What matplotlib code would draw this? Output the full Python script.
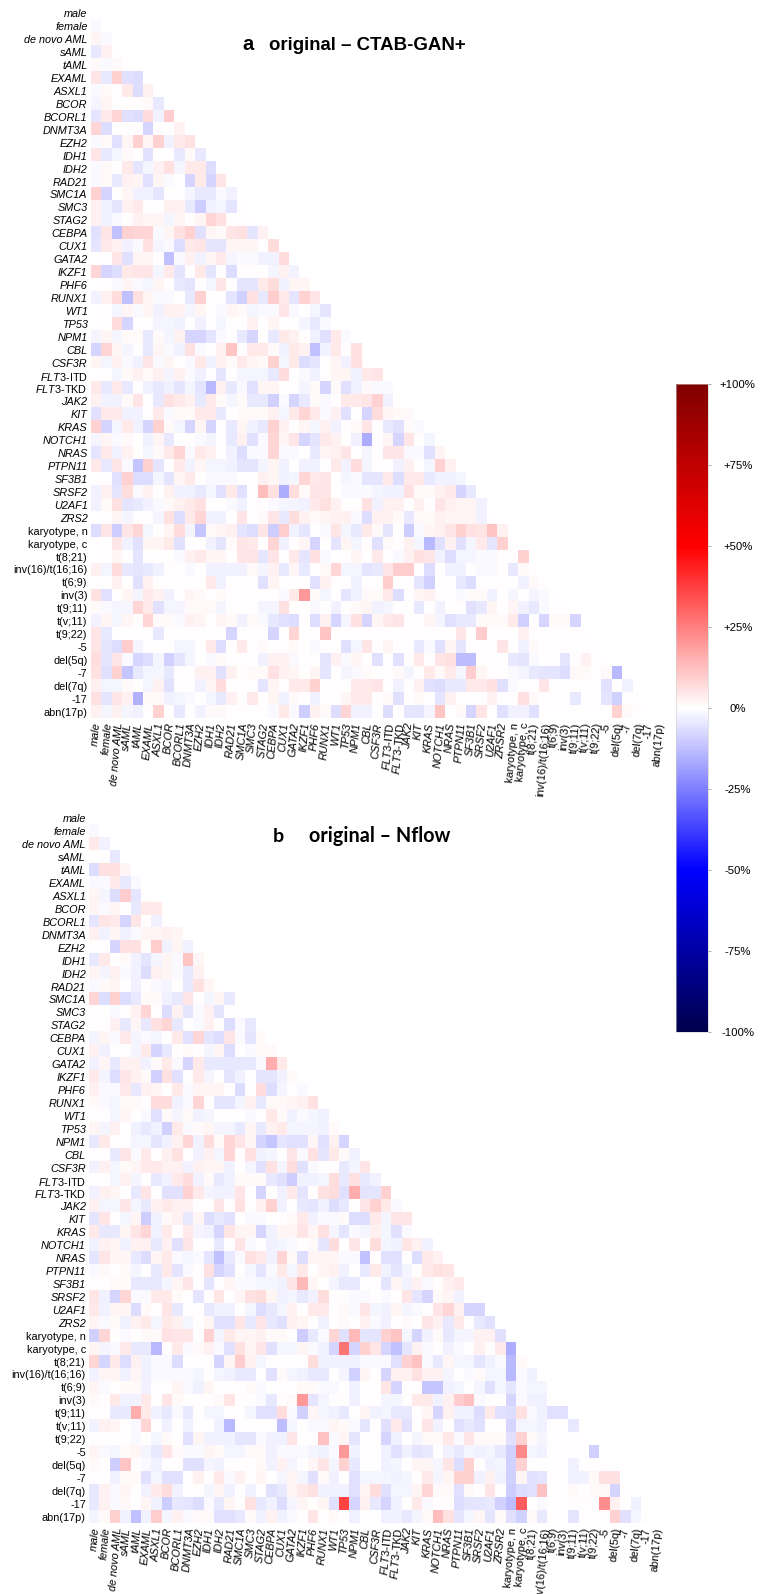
import matplotlib
matplotlib.use('Agg')
import matplotlib.pyplot as plt
import numpy as np

plt.rcParams['font.family'] = ['Liberation Sans', 'DejaVu Sans']
plt.rcParams['mathtext.fontset'] = 'custom'
plt.rcParams['mathtext.it'] = 'Liberation Sans:italic'
plt.rcParams['mathtext.rm'] = 'Liberation Sans'

W, H = 769, 1594

genes = ['male', 'female', 'de novo AML', 'sAML', 'tAML', 'EXAML', 'ASXL1', 'BCOR', 'BCORL1', 'DNMT3A',
         'EZH2', 'IDH1', 'IDH2', 'RAD21', 'SMC1A', 'SMC3', 'STAG2', 'CEBPA', 'CUX1', 'GATA2',
         'IKZF1', 'PHF6', 'RUNX1', 'WT1', 'TP53', 'NPM1', 'CBL', 'CSF3R', r'$\mathit{FLT3}$-ITD', r'$\mathit{FLT3}$-TKD',
         'JAK2', 'KIT', 'KRAS', 'NOTCH1', 'NRAS', 'PTPN11', 'SF3B1', 'SRSF2', 'U2AF1', 'ZRS2']
cyto = ['karyotype, n', 'karyotype, c', 't(8;21)', 'inv(16)/t(16;16)', 't(6;9)', 'inv(3)', 't(9;11)', 't(v;11)',
        't(9;22)', '-5', 'del(5q)', '-7', 'del(7q)', '-17', 'abn(17p)']
row_labels = genes + cyto
col_labels = genes[:-1] + ['ZRSR2'] + cyto

# percentage point differences, lower triangle, one list per row from "female" down
diff_a = [
    [-1],
    [2, -1],
    [-4, 3, 0],
    [1, -1, 1, 0],
    [5, -4, 9, -6, -7],
    [-1, 1, 0, 4, -7, 3],
    [-2, 2, 0, 0, 0, 1, -4],
    [-5, 4, 8, -6, -7, 7, -3, 10],
    [8, -7, 0, 0, 0, -8, 0, 0, 3],
    [-1, 1, -6, 2, 9, 2, 9, -3, 4, 6],
    [5, -4, -2, 1, 0, -6, 0, 0, -4, 1, -4],
    [-1, 1, 0, 4, -5, -2, 3, 6, -2, 4, 4, -7],
    [-1, 1, -4, 3, 2, -6, 2, -1, 0, -8, 4, -8, 5],
    [9, -8, 0, 2, -3, -3, -5, 0, 0, -2, -4, -4, -1, -3],
    [3, -3, -5, 3, 4, 0, 0, 3, 3, -4, -10, -3, -2, -5, 0],
    [3, -3, -1, 0, 3, 2, 2, -2, 2, 0, 2, 8, 6, 0, 0, 0],
    [-6, 5, -12, 9, 8, 8, -1, 2, 6, 9, -6, 2, 1, 5, 6, -5, 3],
    [-5, 4, 3, -3, -1, 6, -2, -1, -7, 4, 5, -5, -5, 2, 2, 2, 0, 7],
    [0, 0, 5, -6, 2, 2, 0, -12, -1, 3, -3, 2, 4, -2, -1, -1, -3, -3, 7],
    [8, -8, -7, 4, 5, 5, -2, 4, -5, 0, 4, -5, 0, -7, 0, 0, 0, -2, 3, -3],
    [0, 0, -1, 2, -1, -2, 2, 0, -4, -5, 0, -2, 5, 0, -5, -5, 4, 7, -3, 2, 2],
    [-3, 3, 7, -12, 6, 2, -1, -1, 0, -4, 9, 0, 0, -5, -9, 6, -4, 10, 4, -5, 9, 5],
    [0, 0, -2, 2, -1, 2, -3, 3, 3, -2, 2, 0, -1, 2, 1, -2, -1, -1, 5, -1, 0, -2, -5],
    [0, 0, 7, -8, 0, 0, -2, -2, -3, 0, -3, 0, -2, 0, 0, 3, 0, 2, 0, 0, -2, -4, -1, 0],
    [-2, 2, -2, 1, 1, -4, 1, -2, 3, -8, -8, -5, -1, 0, -4, -8, 0, -4, 4, 3, 0, -3, -6, 4, -1],
    [-8, 8, 2, -2, 0, -4, 2, -1, -3, 6, -1, 0, 3, 11, 0, 4, 4, 1, -3, 4, 3, -12, -3, 4, 0, 6],
    [2, -2, 3, -1, -3, 5, -1, 2, 0, -1, 4, -3, 3, 1, 4, 2, 1, 9, -2, 4, -7, -5, 0, 2, -3, 6, 0],
    [0, 0, -2, 1, 3, 1, 3, -2, 3, -1, -3, 0, -5, 0, -2, -2, -2, -4, 7, 0, -1, -3, 0, 2, 2, -3, 4, 5],
    [4, -4, 4, -4, 0, -3, -4, -3, -5, -2, -5, -14, 3, -4, -1, -6, 2, 2, 0, 0, -2, 1, -8, 1, -6, -3, 1, -1, -1],
    [3, -3, -3, 1, 5, 0, -4, 6, 4, 3, -4, 4, 1, -2, 1, -4, -4, -9, -1, -8, -4, 1, -1, 0, 4, 4, 5, 9, -3, 0],
    [-6, 4, 4, -3, -3, 0, 4, -1, 1, 1, 4, 4, -4, 0, 1, 1, 1, 3, -2, 4, 8, 4, -1, 3, -6, 0, -8, 7, 2, 1, 1],
    [9, -8, -2, 4, -3, -8, 9, 1, -2, -8, 2, -8, 0, -4, 2, -3, -4, 9, 3, 0, 2, -2, 3, -3, 0, 1, 5, 0, -4, -6, 1, -1],
    [-2, 2, -1, 1, 0, -3, 2, -4, 0, 0, -1, -2, 0, -4, 3, -6, -1, 8, 2, 5, -8, -5, 4, 3, 0, -3, -16, 0, 2, -8, 5, 0, -2],
    [-5, 4, -3, 3, 0, -2, 1, 4, 8, -1, 4, 3, 0, -3, -7, -1, -1, 8, -1, -1, 0, -4, 2, 3, 5, 0, -2, 0, 5, 5, -1, -1, -6, 2],
    [4, -4, 5, -1, -11, 9, -5, 0, 4, -3, 2, -2, -2, -3, -5, -5, -2, 2, -3, 0, -3, -3, 0, 4, -3, 7, -2, 0, 0, -3, 3, 0, -2, 9, 3],
    [0, 0, -6, 9, -7, -7, -2, -5, 2, 4, 0, -1, -1, -1, 0, 0, 3, 2, -3, -2, 8, 4, 5, 0, -2, -1, -5, -5, 4, -7, 4, 4, -4, -3, -3, -2],
    [-3, 3, -5, 7, -1, 3, 0, 3, -3, -3, -4, -2, -6, 4, -6, 0, 13, 6, -16, 7, 1, 5, 5, 0, -1, -1, -1, -2, -3, -3, 6, 1, 1, 3, 4, -8, -4],
    [-3, 1, 6, -5, -4, -3, -1, 1, 3, 4, 6, 0, 0, -1, -3, 0, 0, -1, -2, -2, -3, 4, 6, 3, 0, 0, 6, -3, 3, 3, 0, 3, 0, 5, 3, 2, 2, -3],
    [0, 0, 2, -2, 0, 0, -2, 6, -7, 4, 8, -3, -3, 0, 5, 0, 1, 5, -4, 7, 3, 1, 2, 3, 3, -1, -7, 3, 3, 1, -4, 1, 1, 3, 2, 2, 2, -3, 0],
    [-7, 5, -10, 5, 8, -2, 0, 2, 7, -2, -11, 1, 2, 3, -5, -7, 5, -10, 10, -3, -5, 0, -1, 5, -2, -4, 4, 1, -5, 0, -10, -1, 2, 3, 5, 9, 6, 5, 11, 3],
    [0, 0, 5, -3, -6, 2, 2, 4, -6, 0, 0, -3, -5, 1, 5, 4, 0, 8, -3, 0, 2, -8, 0, -5, 2, -2, 0, -6, 1, 0, 3, -2, -14, -6, 3, -6, -2, 4, -5, 9, 0],
    [0, 0, 2, 0, -5, 0, 0, 0, -1, 3, 4, 2, 2, 0, 5, 5, -5, 5, 0, 4, -5, 6, -1, 0, 0, 2, 0, 4, 0, -1, 3, 6, 5, -3, -7, -2, -2, -1, -1, 0, 0, 9],
    [3, -2, 7, -4, -5, -4, -3, 0, 0, -1, 0, -3, -3, -3, -3, 1, -2, 3, -4, 2, -4, 0, 1, 8, -2, -2, -5, -4, 5, 10, 10, 0, -7, 0, -3, -3, 0, -1, -1, 0, -4, 1, 0],
    [0, 0, 3, 0, -6, 3, 0, 0, 0, 0, 0, 4, -3, 0, 0, 0, -6, 2, 0, 0, 0, -6, 3, 0, 0, -3, 0, 0, 10, 0, 0, -5, -9, 0, 0, -4, -7, 0, 0, 0, 0, -3, 1, 0],
    [6, -6, 0, 2, -2, 4, 3, -3, 0, 2, 1, 0, 1, 0, 0, 0, 0, 0, -1, 4, 20, 1, -2, 0, -5, -3, 1, 1, 4, -7, 0, 2, 3, 0, 0, -1, 1, 1, -3, 0, -2, 0, -2, -1, 0],
    [1, -1, -2, -2, 8, 4, -6, -2, -2, 1, 1, 1, -2, 0, 0, 0, -2, -2, 6, 0, 0, -1, 0, -3, 0, 1, 2, -3, -2, 0, 0, -4, 0, -3, 0, 0, -6, -4, 2, 0, 2, -3, -4, -1, 0, 0],
    [-3, 2, -2, 2, 0, 8, 1, 1, -1, 3, 2, 0, 2, 1, -3, 1, -1, -4, -6, -7, 0, -7, 3, -8, -2, 6, -8, 2, 4, 5, 0, 0, 2, -2, -6, -4, -4, 1, 1, 1, 4, -9, 0, -8, 1, 1, -8],
    [5, -4, 0, 0, 0, 0, -4, 0, 0, 0, 0, 0, 0, -8, 0, 0, 0, -8, 0, 8, 0, 0, 11, 0, 0, 0, 0, 0, 0, 0, 0, 0, 0, 0, 0, 5, 0, 10, 0, 0, 0, 3, 0, 0, 0, 0, 0, 0],
    [5, -5, -7, 10, -2, 0, 0, 0, -2, -2, 0, 4, -7, 0, 4, 0, 1, 0, 0, 1, 0, -1, 0, 0, -6, -2, 5, 0, 2, 0, 0, -4, -1, -6, 2, -5, 0, 0, 0, 5, 0, -3, 1, 0, 0, 0, 0, 0, 0],
    [7, -5, 5, -1, -8, -7, -2, -9, -5, -2, 0, -1, 1, 0, 0, 0, -3, 3, 3, -1, 0, 0, -5, 3, -1, 2, 0, -6, 0, -6, 0, 4, 0, 5, 6, -13, -13, 0, 0, 0, -4, -5, -1, 0, 0, -5, 0, 3, 0, 0],
    [6, -6, 9, -11, -4, -2, -2, -4, 0, 0, 3, 3, -6, 3, 0, 1, 1, 6, 3, 2, 0, 2, -5, 0, -2, -1, 1, 0, 0, 1, -2, 0, 4, 1, 4, -2, 10, 2, 0, 0, -1, -2, -4, -5, -5, -7, 1, 1, 0, 1, -14],
    [3, -2, -2, 1, 0, -2, 3, -6, 0, 0, -3, 2, 7, 0, 0, 0, -5, 2, 0, 4, 4, 9, 0, 0, 0, 4, 4, 5, 0, -3, 0, 3, -6, -7, -4, -4, 4, 4, 6, -6, -1, 0, 0, 5, 0, 0, 0, 0, 0, -6, 0, -3],
    [6, -5, 5, 3, -15, 1, 1, -3, -2, -1, 0, -2, -4, 3, 0, 4, 0, 2, -3, 1, 0, -3, 0, 0, 2, 4, 4, 0, 1, -6, 0, 1, 0, -5, 3, 0, 0, 0, 3, 0, 0, 6, 1, 0, 0, 0, -4, 0, 0, -5, -9, 0, 0],
    [3, -2, 3, -2, -3, 0, 9, 0, -4, 0, -3, 1, 1, 0, 0, 0, 0, -1, 4, -1, -10, 3, 1, -7, 8, -3, -3, 0, -7, 0, -5, -5, -2, 11, 0, 1, -8, 5, 0, -6, -3, -3, -6, 0, 0, 0, 0, 0, 0, 0, 9, 1, 0, 0],
]

diff_b = [
    [-1],
    [4, -3],
    [0, 0, -4],
    [-7, 6, 6, 2],
    [-1, -1, 4, -4, -1],
    [2, -2, -7, 10, -5, 0],
    [2, -1, 2, 0, -4, 4, 4],
    [-5, 5, 4, -8, 5, 0, -3, 0],
    [3, -3, 2, -3, -1, 2, 2, 3, 2],
    [0, 0, -8, 6, 6, 0, 10, -3, 2, -3],
    [-4, 4, 0, 1, -3, -5, -2, 2, -1, 11, 2],
    [2, -2, 3, -1, -3, -7, 3, 2, -1, -4, 3, 0],
    [-1, 1, 2, 0, -3, 0, -1, -2, 0, -4, 6, 2, 0],
    [8, -7, 9, -7, -4, 1, 1, -3, -4, 5, 0, -2, 2, -4],
    [0, 0, -1, 0, 3, 8, 0, -7, 3, -5, -1, 3, -5, 0, 0],
    [0, 0, 3, -4, 2, -4, 6, 8, -4, 0, -1, 3, 0, -7, -1, -4],
    [-2, 2, -1, 4, -2, -1, -2, 0, 4, -6, 8, -5, -7, 5, -1, -5, 1],
    [3, -3, 0, 0, -2, 4, -8, -4, 0, 1, 0, -2, 2, -7, 0, -1, 1, 1],
    [-3, 2, -4, 3, 3, -3, 1, 4, -1, -8, 4, -4, -4, -4, -4, -4, -1, 16, 4],
    [4, -2, -7, 5, 3, 1, -9, 6, -6, 0, 4, -2, 0, -5, -3, 0, -5, -5, -3, 1],
    [3, -1, -1, 4, -4, 3, 2, 0, 4, -1, 2, 2, 2, 0, -7, 0, 7, -7, -2, 0, -1],
    [1, -1, -2, 1, 1, 0, 7, 7, -3, -1, 8, 0, -5, -5, -2, 3, -4, 1, 1, 2, 3, 6],
    [0, 0, -2, 2, 0, -1, -6, 1, -2, 1, -3, -2, 0, 0, 0, -1, 0, 4, 1, -3, -1, -2, -3],
    [2, -2, 3, 0, -3, -4, -3, -9, 4, -1, 1, 2, -2, -2, -4, 2, -4, 3, 4, -2, -2, -2, -3, 1],
    [-4, 4, 0, 0, -2, -2, -5, -3, 3, 8, -3, 7, 1, 8, 5, 2, -8, -11, -5, -6, -6, 2, -6, 3, -8],
    [0, 0, -4, 5, -1, 4, 0, 3, 6, 0, -3, 3, -2, 8, 0, 6, -3, -2, 0, 5, -1, 6, -5, 4, 1, -3],
    [-3, 3, -2, 1, 2, 4, 4, 3, 3, -3, 3, 2, 2, -3, 0, -2, -6, 6, -2, 7, -6, -1, 0, 0, -4, -2, 5],
    [0, 0, -2, 3, -2, 0, -4, -3, 4, 7, -3, 1, -4, -3, 1, 1, 1, -4, -6, -10, -3, -3, -2, 7, -4, 6, -4, -3],
    [-3, 3, 2, 0, -4, 5, 0, -6, -6, 9, 4, -2, -3, -3, 5, 0, -8, 0, -3, 4, -5, 0, 6, 7, -6, 16, -5, -5, 9],
    [3, -2, -2, 5, -2, -4, 3, 4, 3, 3, 0, 0, 5, 0, 6, 0, 3, 9, -3, 0, -4, -5, -3, -7, -4, 0, 5, 9, 4, -1],
    [-5, 5, 0, -2, 2, -10, -3, 1, 3, -4, 2, -7, -4, -6, 0, -1, -1, 0, 0, 1, 4, -3, -1, -1, 1, -7, -7, 4, -2, 5, 5],
    [4, -4, -4, 2, 5, 8, -3, 4, 0, 4, -2, -3, -8, 5, 2, 2, -8, -3, 2, 2, 5, 2, 6, -2, -5, -1, -2, 3, -2, -6, -1, 0],
    [-3, 3, 2, -3, 3, 3, -4, 3, -6, 5, 0, 0, -4, 0, 5, -1, 0, -3, -2, -1, 0, 1, -5, 7, 0, 5, 0, 7, -2, -3, 5, 3, -3],
    [-5, 5, 2, 2, -4, -7, 2, 4, -1, -2, -1, -5, -12, -4, -1, 6, 4, -3, 8, 1, -7, 2, 2, 2, -1, -1, -12, 0, -6, -6, 0, -7, 4, 3],
    [-1, 1, 0, 1, -2, 0, -4, 4, -5, -1, 0, 6, -8, -6, 0, -2, -5, -1, 4, -2, 4, 0, 2, 3, -3, 0, -4, 4, -3, -5, -2, 0, 4, 6, 5],
    [0, 0, 1, 1, -4, -4, -4, -2, 2, 5, 0, -5, 0, 2, -1, -1, -2, -2, -3, 5, 14, 2, 0, -2, -4, -4, 0, 0, -5, 2, -3, 3, -1, 0, 3, 4],
    [5, -3, -8, 8, -1, -1, 4, 4, 1, 0, -5, 0, 5, 0, 2, 6, 7, 2, -3, -2, -4, -3, 7, 0, 0, -1, -1, 0, -1, 0, 5, -5, -8, 1, 2, -3, 0],
    [4, -3, 2, 2, -7, 1, 0, 5, -4, 0, 0, -4, -3, -3, 0, -2, -7, -4, -2, 3, 0, 4, 4, 0, 1, -1, 5, -2, -3, 2, -2, -1, 0, 5, 8, 3, -8, -8],
    [2, -1, 1, -3, 3, 4, -2, 4, 3, -2, 0, 2, -6, -6, 5, -4, 5, -4, -6, 3, 2, 0, -3, 0, 1, 0, 3, -1, -3, 0, 1, 0, 5, 3, -4, 4, 0, -4, -6],
    [-9, 8, 0, -1, 0, 1, 1, 6, 5, 5, 0, 9, -2, 4, 2, 2, 3, 1, 1, 0, -10, -4, -1, 8, -6, 14, -5, -5, 9, 11, -2, -8, -3, 1, -4, -2, -2, 3, 3, -6],
    [2, -2, -1, 4, -4, -4, -14, 0, 4, -1, 1, 3, -1, -6, 6, 2, 5, -6, -2, -2, 2, -1, -3, -8, 27, -8, 9, 5, -8, -12, -5, 3, -1, 0, -3, -1, 0, 3, 0, 4, -16],
    [8, -8, 4, -7, 3, -3, -1, -1, -7, 0, 0, 0, -8, 2, 10, 3, -2, 0, 0, 0, 0, 7, -3, -3, -3, -3, -1, -1, -1, -6, 9, 12, -1, -4, 2, -2, -2, -5, -3, -1, -14, 1],
    [-3, 2, 2, -3, 2, -3, -1, -1, -1, -1, -2, 0, -2, -3, -4, -4, 0, -6, 1, -2, -3, -4, -4, 0, -2, -9, 2, 0, -8, 3, 3, 6, 3, 3, -2, 0, -1, 1, -2, -2, -14, -1, -3],
    [2, -1, 0, 1, 1, -3, 0, 0, 2, -1, -3, 2, 0, 0, 0, 1, -1, 0, 0, 0, 1, 1, -1, -1, 0, -3, 0, 0, 5, -8, 0, 0, -11, -11, -3, -2, 0, -2, -6, -2, -5, -1, -2, -2],
    [1, 0, 4, -3, -3, 4, 0, 5, 1, 0, 0, 0, 1, 5, 0, 0, -1, -4, 0, 1, 20, -5, -2, 0, 0, -3, 0, 0, -2, -2, 0, 4, 4, -3, 3, 10, 12, -1, 0, 0, -8, -1, -3, -3, 0],
    [0, 0, -4, -4, 16, 4, -3, -4, -1, -4, 0, -2, -2, 0, 0, -2, -6, -6, 7, -1, -9, 2, -2, -3, -4, 0, 2, -3, -2, -4, -4, 0, 2, -8, 3, -3, -3, -7, 4, -6, -7, 6, -1, -3, -6, -6],
    [-3, 3, 2, 0, -1, 8, 0, -3, 0, -3, 0, 0, -3, -14, 0, 0, 0, 0, -13, -2, 0, -1, -1, 2, 1, -1, -5, 0, -6, 4, -6, 0, 5, -3, 0, -6, -4, -6, 0, 0, -8, -2, -2, -3, 0, 0, -4],
    [0, 0, 0, 0, -1, 0, -2, 1, 0, -6, 2, -3, -3, -3, -5, -5, -1, -3, -3, 5, 0, 0, 12, -1, 2, -5, 0, 0, -8, -3, 0, -2, 1, 1, 4, -1, 5, 1, 1, 1, -6, 9, 1, -2, 0, 0, 0, 0],
    [2, -1, -2, 1, 2, -2, -4, 5, 1, -1, -1, 2, 1, -2, -2, 1, 1, -3, -1, -1, -1, -2, -3, -1, 20, -3, 0, 0, -3, -6, -3, -5, -4, 0, -3, -4, -2, -3, -2, -4, -9, 23, -2, -3, 0, 0, 0, 0, -9],
    [1, 0, -10, 11, 0, -1, -3, 0, 0, -6, -6, -2, -3, 0, 0, 0, 1, -3, 3, -2, 0, 2, 5, -2, 9, -4, 0, 0, -3, -2, 0, 2, 2, -2, 5, -7, 9, 0, -3, -2, -9, 9, 0, 0, 0, 0, -3, 0, 0, 0],
    [0, 0, -3, 1, 1, -6, -2, -6, -6, 0, 3, 0, 4, -1, 3, 0, 2, 0, -2, 2, -2, -6, 1, -3, 0, -6, -2, -2, -2, -3, -2, 0, 4, -2, 2, 9, 9, -3, 3, -3, -9, 2, -6, -5, 0, 0, -3, -3, 1, 6, 6],
    [-4, 3, -1, 2, 0, -3, 4, 7, -3, 0, 0, -2, 2, -3, 0, -3, 0, -6, -4, 2, 4, 6, -3, -3, -3, -6, 2, 7, -6, -2, -2, 2, 8, 1, 1, -6, 1, 0, 5, 0, -10, -7, -6, 12, 0, 0, 1, 0, 1, 1, -8, 0],
    [-4, 3, -1, 1, 0, 2, -3, -10, -4, -5, -7, -1, -4, 2, 0, 6, -4, -3, -7, -2, 2, 0, 2, -6, 37, -8, 3, -4, -8, -3, 0, 4, -1, 0, 0, -7, -5, -5, -4, -9, -13, 32, 0, -1, 0, 0, 0, 0, 0, 22, 3, 0, -3],
    [-2, 1, 9, -3, -12, -3, 10, -2, 3, -1, 1, 1, -6, -6, -4, 1, -3, 3, -3, -1, 0, 5, 0, 1, 0, -3, 0, 0, -3, -3, -4, -2, 1, 13, 6, -5, -2, 2, -5, 1, -6, -9, 1, -4, 0, 0, -5, 0, 0, 0, 9, -6, -2, 0],
]

bar_ticks = [-100, -75, -50, -25, 0, 25, 50, 75, 100]
bar_tick_labels = ['-100%', '-75%', '-50%', '-25%', '0%', '+25%', '+50%', '+75%', '+100%']


def px_axes(fig, left, top, width, height):
    return fig.add_axes([left / W, 1 - (top + height) / H, width / W, height / H])


def draw_panel(fig, rows, left, top):
    n = len(row_labels)
    grid = np.full((n, n), np.nan)
    for r, values in enumerate(rows, start=1):
        grid[r, :len(values)] = values

    ax = px_axes(fig, left, top, n * 10.41, n * 12.93)
    im = ax.imshow(grid, cmap='seismic', vmin=-100, vmax=100, aspect='auto', interpolation='nearest')
    for spine in ax.spines.values():
        spine.set_visible(False)
    ax.set_yticks(range(n))
    ax.set_yticklabels(row_labels, fontsize=7.8)
    ax.set_xticks(range(n))
    ax.set_xticklabels(col_labels, fontsize=7.8, rotation=85, ha='center', va='top')
    ax.tick_params(length=0, pad=2.5)
    ax.tick_params(axis='x', pad=3)

    # genes are in italics, cytogenetics are not; FLT3 labels do it themselves
    for labels in (ax.get_yticklabels(), ax.get_xticklabels()):
        for i, label in enumerate(labels):
            if i < len(genes) and 'FLT3' not in genes[i]:
                label.set_fontstyle('italic')
    return im


fig = plt.figure(figsize=(W / 100, H / 100), dpi=100)

im = draw_panel(fig, diff_a, 91, 7)
draw_panel(fig, diff_b, 89.3, 812)

fig.text(242 / W, 1 - 50 / H, 'a', fontsize=14.5, fontweight='bold', va='baseline')
fig.text(269 / W, 1 - 50 / H, 'original – CTAB-GAN+', fontsize=13.4, fontweight='bold', va='baseline')
fig.text(273 / W, 1 - 842 / H, 'b', fontsize=14, fontweight='bold', va='baseline', family=['Lato', 'DejaVu Sans'])
fig.text(309 / W, 1 - 842 / H, 'original – Nflow', fontsize=14.2, fontweight='bold', va='baseline', family=['Lato', 'DejaVu Sans'])

cax = px_axes(fig, 676, 384, 32, 648)
cbar = fig.colorbar(im, cax=cax)
cbar.outline.set_linewidth(0.4)
cbar.outline.set_edgecolor('#cccccc')
cbar.set_ticks(bar_ticks)
cbar.set_ticklabels(bar_tick_labels, fontsize=8.2, ha='center')
cax.tick_params(length=2.5, width=0.5, color='#888888', pad=19)

fig.savefig('out.png', dpi=100)
